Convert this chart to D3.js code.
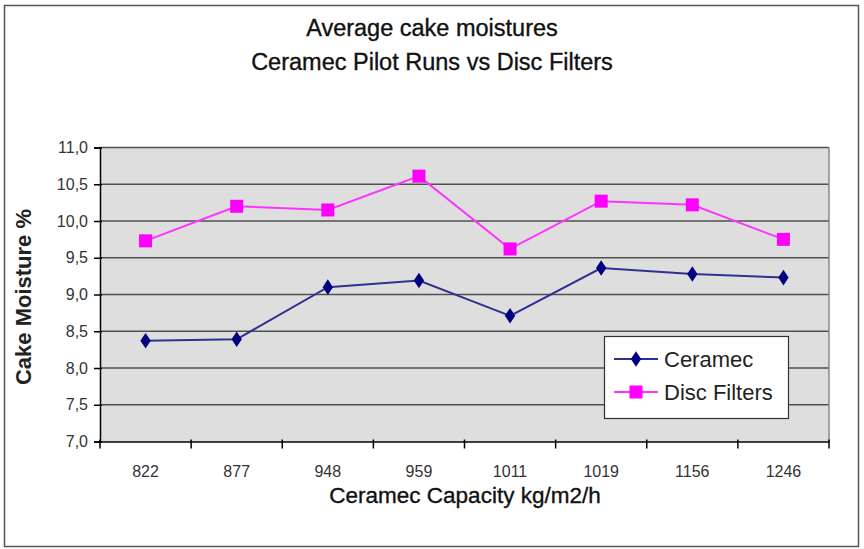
<!DOCTYPE html>
<html>
<head>
<meta charset="utf-8">
<script src="https://cdn.jsdelivr.net/npm/d3@7"></script>
<style>
  html, body { margin: 0; padding: 0; background: #fff; }
  svg { display: block; font-family: "Liberation Sans", Arial, sans-serif; }
</style>
</head>
<body>
<svg id="chart" width="864" height="549"></svg>
<script>
const categories = ["822", "877", "948", "959", "1011", "1019", "1156", "1246"];
const ceramec = [8.37, 8.39, 9.10, 9.19, 8.71, 9.36, 9.28, 9.23];
const discFilters = [9.73, 10.20, 10.15, 10.61, 9.62, 10.27, 10.22, 9.75];
const yTicks = [7.0, 7.5, 8.0, 8.5, 9.0, 9.5, 10.0, 10.5, 11.0];
const titleLines = ["Average cake moistures", "Ceramec Pilot Runs vs Disc Filters"];
const seriesNames = ["Ceramec", "Disc Filters"];

const svg = d3.select("#chart");
const plot = { left: 100, right: 829, top: 147.5, bottom: 441.5 };

// outer frame
svg.append("rect")
  .attr("x", 4.5).attr("y", 5.5).attr("width", 854).attr("height", 541)
  .attr("fill", "#fff").attr("stroke", "#555").attr("stroke-width", 1.5);

const x = d3.scaleBand().domain(categories).range([plot.left, plot.right]);
const y = d3.scaleLinear().domain([7, 11]).range([plot.bottom, plot.top]);

// plot background
svg.append("rect")
  .attr("x", plot.left).attr("y", plot.top)
  .attr("width", plot.right - plot.left).attr("height", plot.bottom - plot.top)
  .attr("fill", "#dedede");

// gridlines
svg.append("g").selectAll("line")
  .data(yTicks.filter(v => v > 7))
  .join("line")
  .attr("x1", plot.left).attr("x2", plot.right)
  .attr("y1", d => y(d)).attr("y2", d => y(d))
  .attr("stroke", "#505050").attr("stroke-width", 1.6);

// right edge
svg.append("line")
  .attr("x1", plot.right).attr("x2", plot.right)
  .attr("y1", plot.top).attr("y2", plot.bottom)
  .attr("stroke", "#888").attr("stroke-width", 1.5);

// y axis
const yAxis = d3.axisLeft(y).tickValues(yTicks)
  .tickFormat(d => d3.format(".1f")(d).replace(".", ","))
  .tickSize(6).tickPadding(6);
const gy = svg.append("g").attr("transform", `translate(${plot.left},0)`).call(yAxis);
gy.select(".domain").attr("stroke", "#000").attr("stroke-width", 1.5);
gy.selectAll(".tick line").attr("stroke", "#000").attr("stroke-width", 1.5).attr("x2", -6).attr("x1", 2);
gy.selectAll(".tick text").attr("font-size", 16).attr("fill", "#333")
  .attr("font-family", "Liberation Sans, Arial, sans-serif");

// x axis
const xAxis = d3.axisBottom(x).tickSize(0).tickPadding(24);
const gx = svg.append("g").attr("transform", `translate(0,${plot.bottom})`).call(xAxis);
gx.select(".domain").attr("stroke", "#000").attr("stroke-width", 1.5);
gx.selectAll(".tick text").attr("font-size", 16).attr("fill", "#333")
  .attr("font-family", "Liberation Sans, Arial, sans-serif");
const bounds = categories.map(c => x(c)).concat([plot.right]);
gx.append("g").selectAll("line").data(bounds).join("line")
  .attr("x1", d => d).attr("x2", d => d).attr("y1", -2).attr("y2", 7)
  .attr("stroke", "#000").attr("stroke-width", 1.5);

const cx = d => x(d) + x.bandwidth() / 2;

// lines
const line = d3.line().x(d => cx(d[0])).y(d => y(d[1]));
svg.append("path").datum(categories.map((c, i) => [c, discFilters[i]]))
  .attr("d", line).attr("fill", "none").attr("stroke", "#ff33ff").attr("stroke-width", 2);
svg.append("path").datum(categories.map((c, i) => [c, ceramec[i]]))
  .attr("d", line).attr("fill", "none").attr("stroke", "#303090").attr("stroke-width", 2);

// markers
const sq = 13;
svg.append("g").selectAll("rect").data(categories.map((c, i) => [c, discFilters[i]]))
  .join("rect")
  .attr("x", d => cx(d[0]) - sq / 2).attr("y", d => y(d[1]) - sq / 2)
  .attr("width", sq).attr("height", sq).attr("fill", "#ff00ff");
const diamond = d3.symbol().type(d3.symbolDiamond).size(70);
svg.append("g").selectAll("path").data(categories.map((c, i) => [c, ceramec[i]]))
  .join("path")
  .attr("d", diamond)
  .attr("transform", d => `translate(${cx(d[0])},${y(d[1])}) scale(1.15,1)`)
  .attr("fill", "#000080");

// titles
svg.append("g").selectAll("text").data(titleLines).join("text")
  .attr("x", 432).attr("y", (d, i) => 36 + i * 33.5)
  .attr("text-anchor", "middle").attr("font-size", 23.5).attr("fill", "#111")
  .attr("stroke", "#111").attr("stroke-width", 0.35)
  .text(d => d);

svg.append("text")
  .attr("x", 465).attr("y", 503)
  .attr("text-anchor", "middle").attr("font-size", 22.5).attr("fill", "#111")
  .attr("stroke", "#111").attr("stroke-width", 0.35)
  .text("Ceramec Capacity kg/m2/h");

svg.append("text")
  .attr("transform", "translate(31,297) rotate(-90)")
  .attr("text-anchor", "middle").attr("font-size", 22).attr("font-weight", "bold").attr("fill", "#222")
  .text("Cake Moisture %");

// legend
const lg = svg.append("g");
lg.append("rect").attr("x", 604.5).attr("y", 336.5).attr("width", 184).attr("height", 82)
  .attr("fill", "#fff").attr("stroke", "#333").attr("stroke-width", 1.2);
const legendRows = [
  { name: seriesNames[0], color: "#303090", marker: "diamond", y: 359 },
  { name: seriesNames[1], color: "#ff33ff", marker: "square", y: 392 }
];
legendRows.forEach(r => {
  lg.append("line").attr("x1", 614).attr("x2", 658).attr("y1", r.y).attr("y2", r.y)
    .attr("stroke", r.color).attr("stroke-width", 2);
  if (r.marker === "diamond") {
    lg.append("path").attr("d", diamond).attr("transform", `translate(636,${r.y}) scale(1.15,1)`).attr("fill", "#000080");
  } else {
    lg.append("rect").attr("x", 636 - 6.5).attr("y", r.y - 6.5).attr("width", 13).attr("height", 13).attr("fill", "#ff00ff");
  }
  lg.append("text").attr("x", 664).attr("y", r.y + 8).attr("font-size", 22).attr("fill", "#222").text(r.name);
});
</script>
</body>
</html>
